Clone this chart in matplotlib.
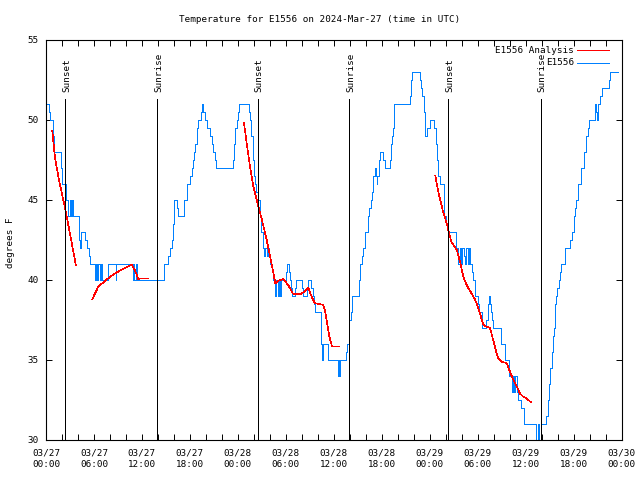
import numpy as np
import matplotlib
matplotlib.use('Agg')
import matplotlib.pyplot as plt
from matplotlib.ticker import MultipleLocator, FixedLocator
from matplotlib.transforms import blended_transform_factory

# ---------------- data (hours since 2024-03-27 00:00 UTC) ----------------
title = "Temperature for E1556 on 2024-Mar-27 (time in UTC)"
ylabel = "degrees F"
series_names = ["E1556 Analysis", "E1556"]

x_tick_hours = [0, 6, 12, 18, 24, 30, 36, 42, 48, 54, 60, 66, 72]
x_tick_labels = ["03/27\n00:00", "03/27\n06:00", "03/27\n12:00", "03/27\n18:00",
                 "03/28\n00:00", "03/28\n06:00", "03/28\n12:00", "03/28\n18:00",
                 "03/29\n00:00", "03/29\n06:00", "03/29\n12:00", "03/29\n18:00",
                 "03/30\n00:00"]
y_ticks = [30, 35, 40, 45, 50, 55]

sun_labels = ["Sunset", "Sunrise", "Sunset", "Sunrise", "Sunset", "Sunrise"]
sun_hours = [2.43, 13.93, 26.48, 37.95, 50.33, 61.87]

# observed station temperature (value holds until next time)
blue_hours = [0.10, 0.35, 0.45, 0.85, 1.05, 1.83, 2.00, 2.45, 2.55, 2.80, 2.95, 3.10, 3.20, 3.35,
              4.15, 4.25, 4.35, 4.85, 5.10, 5.35, 5.50, 6.10, 6.25, 6.40, 6.55, 6.75, 6.90, 7.00,
              7.75, 8.70, 8.80, 10.85, 10.95, 11.05, 11.20, 11.35, 14.76, 15.30, 15.50, 15.75,
              15.85, 16.00, 16.35, 16.50, 17.30, 17.60, 17.70, 18.00, 18.25, 18.35, 18.50, 18.70,
              18.85, 19.00, 19.40, 19.55, 19.65, 19.90, 20.10, 20.50, 20.75, 20.90, 21.10, 21.30,
              23.35, 23.50, 23.70, 23.85, 24.00, 24.20, 25.40, 25.50, 25.70, 25.85, 25.95, 26.00,
              26.10, 26.30, 26.50, 26.75, 26.85, 26.95, 27.10, 27.30, 27.45, 27.60, 27.75, 27.90,
              28.00, 28.30, 28.45, 28.60, 28.80, 29.00, 29.10, 29.30, 29.35, 30.00, 30.20, 30.40,
              30.55, 30.70, 30.80, 31.10, 31.30, 32.00, 32.20, 32.60, 32.80, 33.15, 33.35, 33.55,
              33.70, 34.35, 34.45, 34.55, 34.70, 35.25, 36.55, 36.65, 36.72, 36.80, 37.50, 37.70,
              37.85, 37.95, 38.10, 38.28, 39.10, 39.30, 39.50, 39.70, 39.95, 40.30, 40.45, 40.60,
              40.80, 40.95, 41.10, 41.25, 41.35, 41.45, 41.60, 41.80, 42.15, 42.35, 43.05, 43.10,
              43.30, 43.45, 43.60, 45.55, 45.70, 45.85, 46.80, 46.95, 47.10, 47.30, 47.45, 47.65,
              48.00, 48.60, 48.80, 48.97, 49.10, 49.30, 49.75, 49.85, 50.05, 50.30, 51.30, 51.60,
              51.75, 51.90, 52.05, 52.30, 52.45, 52.60, 52.75, 52.90, 53.05, 53.30, 53.45, 53.70,
              54.00, 54.20, 54.60, 55.10, 55.25, 55.40, 55.55, 55.70, 55.85, 55.95, 56.95, 57.40,
              57.90, 58.30, 58.40, 58.60, 58.70, 58.90, 59.10, 59.45, 59.85, 61.35, 61.55, 61.65,
              61.90, 62.60, 62.80, 62.95, 63.10, 63.25, 63.40, 63.50, 63.65, 63.80, 63.95, 64.15,
              64.30, 64.45, 64.90, 65.55, 65.75, 66.05, 66.20, 66.30, 66.55, 66.90, 67.25, 67.30,
              67.60, 67.75, 67.90, 68.70, 68.85, 68.95, 69.05, 69.30, 69.50, 70.40, 70.55, 71.50]
blue_temps = [51, 50.5, 50, 49, 48, 47, 46, 45.5, 45, 44, 45, 44, 45, 44,
              42.5, 42, 43, 42.5, 42, 41.5, 41, 40, 41, 40, 41, 40, 41, 40,
              41, 40, 41, 40, 41, 40, 41, 40, 41, 41.5, 42, 42.5,
              43.5, 45, 44.5, 44, 45, 45.5, 46, 46.5, 47, 47.5, 48, 48.5,
              49.5, 50, 50.5, 51, 50.5, 50, 49.5, 49, 48.5, 48, 47.5, 47,
              47.5, 48.5, 49.5, 50, 50.5, 51, 50.5, 50, 49, 48, 47.5, 46.5,
              46, 45.5, 45, 44, 43.5, 43, 42, 41.5, 42, 41.5, 42, 41.5,
              41, 40.5, 40, 39, 40, 39, 40, 39, 40, 40.5, 41, 40.5,
              40, 39.5, 39, 39.5, 40, 39.5, 39, 39.5, 40, 39.5, 39, 38.5,
              38, 37, 36, 35, 36, 35, 34, 35, 34, 35, 35.5, 36,
              36.5, 37.5, 38, 39, 40, 41, 41.5, 42, 43, 44, 44.5, 45,
              45.5, 46.5, 47, 46.5, 46, 46.5, 47.5, 48, 47.5, 47, 47.5, 48.5,
              49, 49.5, 51, 51.5, 52.5, 53, 52.5, 52, 51.5, 50.5, 49, 49.5,
              50, 49.5, 48.5, 47.5, 46.5, 46, 45, 44, 43.5, 43, 42, 41,
              42, 41, 42, 41.5, 41, 42, 41, 42, 41, 40.5, 40, 39,
              38.5, 38, 37, 37.5, 38.5, 39, 38.5, 38, 37.5, 37, 36, 35,
              34, 33, 34, 33, 34, 33, 32.5, 32, 31, 30, 31, 30,
              31, 31.5, 32.5, 33.5, 34.5, 35.5, 36.5, 37, 38.5, 39, 39.5, 40,
              40.5, 41, 42, 42.5, 43, 44, 44.5, 45, 46, 47, 47.5, 48,
              49, 49.5, 50, 51, 50.5, 50, 51, 51.5, 52, 52.5, 53, 53]

nan = np.nan
red_hours = [0.79, 1.13, 1.63, 2.38, 3.00, 3.75, nan,
             5.80, 6.55, 7.17, 8.01, 9.26, 10.72, 11.13, 11.55, 11.76, 12.80, nan,
             24.77, 25.11, 25.52, 25.94, 26.36, 27.02, 27.61, 28.24, 28.69, 28.94, 29.28,
             29.69, 30.11, 30.53, 30.86, 31.78, 32.40, 32.82, 33.24, 33.65, 34.69, 34.90,
             35.11, 35.45, 35.78, 36.69, nan,
             48.71, 49.13, 49.71, 50.13, 50.38, 50.71, 51.38, 51.80, 52.21, 52.71, 53.25,
             53.71, 54.30, 54.71, 54.96, 55.55, 56.05, 56.38, 56.59, 57.00, 57.64, 58.06,
             58.47, 58.89, 59.30, 59.72, 60.14, 60.68]
red_temps = [49.3, 47.6, 46.25, 44.5, 42.9, 40.9, nan,
             38.8, 39.6, 39.85, 40.2, 40.6, 40.95, 40.6, 40.05, 40.1, 40.1, nan,
             49.8, 48.55, 47.1, 45.85, 45.0, 43.75, 42.5, 40.95, 39.8, 39.9, 40.0,
             40.05, 39.8, 39.5, 39.15, 39.1, 39.3, 39.5, 38.95, 38.55, 38.45, 38.1,
             37.5, 36.45, 35.85, 35.85, nan,
             46.5, 45.4, 44.2, 43.55, 43.0, 42.4, 41.9, 41.15, 40.2, 39.6, 39.15,
             38.75, 37.9, 37.2, 37.1, 37.0, 36.05, 35.4, 35.1, 34.9, 34.8, 34.25,
             33.75, 33.35, 32.9, 32.7, 32.6, 32.35]

RED = '#ff0000'
BLUE = '#0080ff'
LW = 0.7
FS = 6.7

# ---------------- figure ----------------
plt.rcParams['font.family'] = ['DejaVu Sans Mono']
plt.rcParams['font.size'] = FS

fig = plt.figure(figsize=(6.4, 4.8), dpi=100)
ax = fig.add_axes([46 / 640, 40 / 480, 575.5 / 640, 400 / 480])

ax.plot(red_hours, red_temps, color=RED, lw=0.45, antialiased=False, zorder=3)
ax.plot(blue_hours, blue_temps, color=BLUE, lw=LW, drawstyle='steps-post',
        antialiased=False, zorder=2)

trans = blended_transform_factory(ax.transData, ax.transAxes)
for lab, h in zip(sun_labels, sun_hours):
    ax.plot([h, h], [0, 0.8525], transform=trans, color='black', lw=LW,
            antialiased=False, zorder=4)
    ax.text(h + 0.15, 0.87, lab, transform=trans, rotation=90,
            ha='center', va='bottom', fontsize=FS)

ax.set_xlim(0, 72)
ax.set_ylim(30, 55)
ax.xaxis.set_major_locator(FixedLocator(x_tick_hours))
ax.set_xticklabels(x_tick_labels, linespacing=1.45)
ax.xaxis.set_minor_locator(MultipleLocator(2))
ax.set_yticks(y_ticks)
ax.set_yticklabels([str(v) for v in y_ticks])
ax.tick_params(which='both', direction='in', top=True, right=True,
               length=4.0, width=0.7, colors='black')
ax.tick_params(axis='x', which='both', pad=6)
ax.tick_params(axis='y', pad=5)
for s in ax.spines.values():
    s.set_linewidth(0.8)
    s.set_color('black')

# manual legend (right-aligned text, sample line on the right)
for i, (name, col) in enumerate(zip(series_names, [RED, BLUE])):
    yy = 0.974 - i * 0.031
    ax.text(0.9175, yy, name, transform=ax.transAxes, ha='right', va='center',
            fontsize=FS)
    ax.plot([0.9235, 0.9783], [yy, yy], transform=ax.transAxes, color=col,
            lw=LW, antialiased=False)

fig.text(0.5, 1 - 20 / 480, title, ha='center', va='center', fontsize=FS)
fig.text(11 / 640, 1 - 243 / 480, ylabel, rotation=90, ha='center', va='center',
         fontsize=FS)

fig.savefig('out.png', dpi=100)
